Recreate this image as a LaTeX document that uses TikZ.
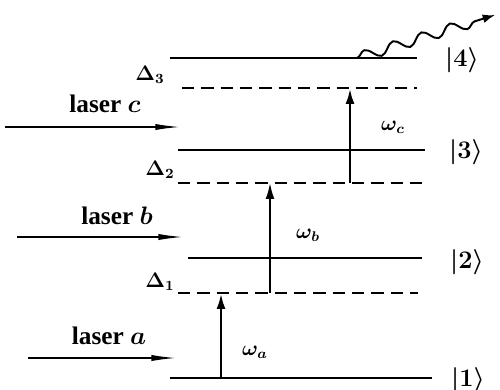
\documentclass[tikz,border=0pt]{standalone}
\usepackage{amssymb}
\usepackage{amsmath}
\usepackage{bm}
\usepackage{fontspec}
\newfontfamily\laserfont{Liberation Serif}
\usetikzlibrary{arrows.meta,decorations.pathmorphing}

\begin{document}
\begin{tikzpicture}[x=0.02cm,y=-0.02cm]
    \useasboundingbox (0,0) rectangle (500,389);
    \tikzset{
        level/.style={line width=1.1pt},
        virtual/.style={line width=1pt,dash pattern=on 7pt off 4pt},
        pump/.style={line width=1.6pt,-{Latex[length=9pt,width=5pt]}},
        laser/.style={line width=0.8pt,-{Latex[length=14pt,width=3.5pt]}},
        lbl/.style={font=\large\boldmath},
        beam/.style={font=\laserfont\Large\bfseries\boldmath},
        ket/.style={font=\Large\boldmath}
    }

    % Energieniveaus
    \coordinate (L4a) at (170,58);  \coordinate (L4b) at (417,58);
    \coordinate (D3a) at (182,88);  \coordinate (D3b) at (417,88);
    \coordinate (L3a) at (178,150); \coordinate (L3b) at (425,150);
    \coordinate (D2a) at (178,183); \coordinate (D2b) at (425,183);
    \coordinate (L2a) at (188,258); \coordinate (L2b) at (422,258);
    \coordinate (D1a) at (178,293); \coordinate (D1b) at (418,293);
    \coordinate (L1a) at (170,378); \coordinate (L1b) at (432,378);

    \draw[level] (L4a) -- (L4b);
    \draw[level] (L3a) -- (L3b);
    \draw[level] (L2a) -- (L2b);
    \draw[level] (L1a) -- (L1b);
    \draw[virtual] (D3a) -- (D3b);
    \draw[virtual] (D2a) -- (D2b);
    \draw[virtual] (D1a) -- (D1b);

    % Anregungspfeile
    \coordinate (Pa0) at (221,378); \coordinate (Pa1) at (221,293);
    \coordinate (Pb0) at (270,293); \coordinate (Pb1) at (270,183);
    \coordinate (Pc0) at (350,183); \coordinate (Pc1) at (350,88);
    \draw[pump] (Pa0) -- (Pa1);
    \draw[pump,line width=1.1pt] (Pb0) -- (Pb1);
    \draw[pump] (Pc0) -- (Pc1);

    % Laserstrahlen
    \coordinate (Ca) at (5,127);  \coordinate (Cb) at (180,127);
    \coordinate (Ba) at (17,237); \coordinate (Bb) at (183,237);
    \coordinate (Aa) at (28,358); \coordinate (Ab) at (176,358);
    \draw[laser] (Ca) -- (Cb);
    \draw[laser] (Ba) -- (Bb);
    \draw[laser] (Aa) -- (Ab);

    % Emission
    \coordinate (E0) at (357,58);
    \coordinate (E1) at (495,15);
    \draw[line width=1.1pt,-{Latex[length=7pt,width=5pt]},
        decorate,decoration={snake,amplitude=3pt,segment length=17pt,post length=10pt}]
        (E0) -- (E1);

    \node[beam] at (105,104) {laser $c$};
    \node[beam] at (117,216) {laser $b$};
    \node[beam] at (109,336) {laser $a$};

    \node[lbl] at (150,75) {$\Delta_3$};
    \node[lbl] at (160,170) {$\Delta_2$};
    \node[lbl] at (160,282) {$\Delta_1$};

    \node[lbl] at (255,352) {$\omega_a$};
    \node[lbl] at (308,235) {$\omega_b$};
    \node[lbl] at (393,127) {$\omega_c$};

    \node[ket] at (462,60) {$|4\rangle$};
    \node[ket] at (466,152) {$|3\rangle$};
    \node[ket] at (467,262) {$|2\rangle$};
    \node[ket] at (468,380) {$|1\rangle$};
\end{tikzpicture}
\end{document}
